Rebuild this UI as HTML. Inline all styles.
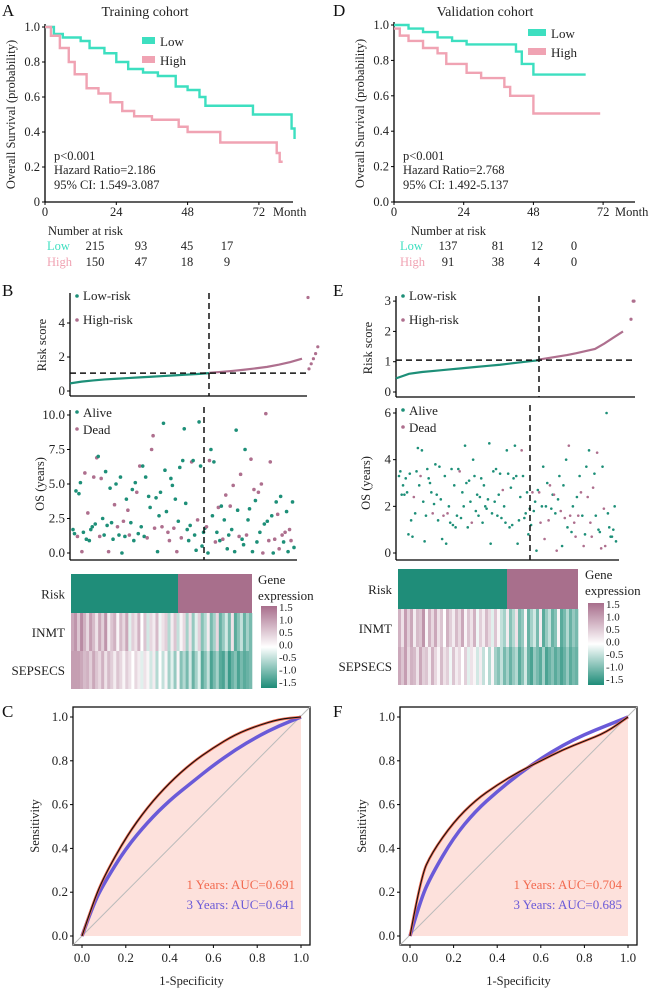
<!DOCTYPE html>
<html><head><meta charset="utf-8"><style>
html,body{margin:0;padding:0;background:#fff;}
svg{display:block;font-family:"Liberation Serif",serif;}
</style></head><body>
<svg id="fig" width="656" height="991" viewBox="0 0 656 991"></svg>
<script>
// ---- KM data ----
const kmA_lowT=[0,3,6,12,15,20,24,28,33,38,44,48,52,54,70,83,84];
const kmA_lowS=[1,0.96,0.94,0.92,0.88,0.85,0.80,0.76,0.74,0.72,0.66,0.64,0.60,0.55,0.50,0.42,0.36];
const kmA_highT=[0,2,5,8,10,14,18,22,26,30,36,45,48,59,78,79,80];
const kmA_highS=[1,0.95,0.88,0.80,0.73,0.65,0.62,0.57,0.52,0.49,0.47,0.43,0.40,0.34,0.28,0.23,0.23];
const kmD_lowT=[0,5,10,15,20,25,42,44,48,66];
const kmD_lowS=[1,0.98,0.96,0.93,0.91,0.89,0.85,0.78,0.72,0.72];
const kmD_highT=[0,2,5,10,15,18,25,30,38,40,48,71];
const kmD_highS=[0.98,0.94,0.91,0.87,0.84,0.78,0.73,0.70,0.65,0.60,0.50,0.50];
const riskA_low=["215","93","45","17"], riskA_high=["150","47","18","9"];
const riskD_low=["137","81","12","0"], riskD_high=["91","38","4","0"];
// ---- risk score curves ----
const rsB_low=[0.45,0.55,0.62,0.68,0.72,0.76,0.80,0.84,0.88,0.92,0.96,1.0,1.05];
const rsB_high=[1.07,1.12,1.18,1.25,1.33,1.42,1.55,1.70,1.90];
const rsB_tail=[1.3,1.6,1.9,2.2,2.6];
const rsE_low=[0.45,0.6,0.66,0.7,0.74,0.78,0.82,0.86,0.9,0.95,1.0,1.05];
const rsE_high=[1.07,1.12,1.17,1.22,1.28,1.35,1.42,1.6,1.8,2.0];
const rsE_tail=[2.4,3.0];
// ---- OS scatter ----
const osB=[1.7,1.4,4.5,1.2,4.3,5.1,0.1,1.5,5.8,1.0,2.9,0.9,1.7,1.9,5.5,2.1,6.9,7.0,1.2,5.4,2.5,1.3,5.9,2.0,0.1,4.7,2.2,1.0,3.5,5.0,1.9,1.3,5.5,0.0,2.3,1.2,3.9,3.1,1.3,2.2,4.6,0.9,5.1,4.4,1.4,6.3,1.9,6.3,1.2,5.5,1.1,4.1,3.3,7.5,8.5,1.8,4.0,0.1,2.7,4.4,1.9,9.4,6.0,3.0,1.5,0.9,5.4,4.9,1.8,3.9,0.1,2.3,6.2,1.1,6.7,9.0,3.6,1.7,0.9,2.0,6.6,6.7,1.3,0.2,2.4,9.5,6.3,0.5,1.5,1.8,
1.9,0.0,6.7,7.5,2.7,6.6,0.8,1.5,3.3,0.9,3.4,1.0,2.4,4.2,0.3,1.3,3.4,1.7,4.9,0.1,8.9,3.1,1.2,5.7,1.0,0.6,7.5,1.3,2.4,3.2,6.8,0.1,4.6,3.8,0.8,4.4,1.5,5.0,0.0,2.1,10.1,2.3,0.9,6.6,2.7,0.0,1.0,3.7,2.8,0.3,4.1,1.3,0.8,1.5,3.0,0.1,1.7,0.9,3.7,0.4];
const stB="0001001010100010101100001000101000100110000101000010011100001000110010100100000010001000001010001010010100101000110001001010010110101100101101010011";
const osE=[3.3,3.5,2.5,2.9,2.5,3.2,2.6,0.8,3.4,1.4,0.7,2.4,1.7,3.5,4.5,2.9,3.3,4.4,2.2,0.5,1.6,3.6,3.2,3.0,2.6,1.7,2.1,3.8,2.5,1.4,3.7,2.3,0.6,1.6,3.3,0.4,1.7,2.0,1.3,3.6,1.2,2.9,1.1,1.6,3.6,3.5,1.5,2.6,2.0,4.6,3.0,1.1,3.1,2.2,1.3,4.0,3.3,1.8,2.5,1.6,2.4,3.2,1.3,2.9,2.0,1.9,2.3,4.7,0.4,1.7,3.5,2.2,3.6,1.6,2.5,3.4,1.5,2.7,2.0,1.3,4.4,3.4,1.1,2.8,1.2,3.2,4.6,3.3,0.4,1.4,2.4,4.4,3.3,1.5,1.7,2.6,0.8,1.9,1.2,2.6,1.8,
2.2,0.1,2.7,2.6,1.3,2.0,3.7,0.6,2.0,3.0,1.4,2.9,1.9,2.5,2.5,1.7,0.1,2.3,3.3,1.8,0.3,2.9,1.5,4.0,1.1,4.6,1.6,0.9,2.0,1.3,0.7,2.4,1.6,3.3,2.6,1.6,0.3,0.8,3.7,2.4,4.4,1.3,0.7,2.8,3.4,1.6,4.3,1.0,0.9,0.2,3.7,1.9,0.3,6.0,1.7,1.1,0.7,0.7,1.0,2.0,0.5];
const stE="0000000000010000100000000100000001001000000001000000001000000000000000000000010000000000000100000001000011001001100101001001001100110101010010111001001011";
// ---- heatmap ----
const inmtB=[0.9,1.1,0.6,1.2,0.8,0.4,1.0,0.7,0.3,0.9,0.5,1.1,0.2,0.6,0.8,0.1,0.7,0.4,0.9,-0.2,0.5,0.3,0.8,0.0,0.6,-0.3,0.4,0.2,0.7,-0.1,0.3,0.5,-0.5,0.2,0.6,-0.4,0.1,0.4,-0.6,0.3,-0.7,-0.2,0.5,-0.8,-0.5,0.2,-0.9,-0.6,0.4,-1.0,-0.7,-0.3,-0.9,0.3,-1.1,-0.8,-0.4,-1.0,-0.6,-0.9];
const sepB=[1.0,1.0,1.0,0.9,0.7,0.8,0.5,0.9,0.6,0.4,0.8,0.3,0.7,0.5,0.2,0.6,0.4,0.1,0.5,0.3,0.0,0.4,0.2,-0.2,0.3,0.1,-0.3,0.2,-0.5,0.0,-0.4,0.1,-0.6,-0.2,-0.7,0.1,-0.8,-0.5,-0.9,-0.3,-1.0,-0.6,-0.2,-1.1,-0.8,-0.4,-1.2,-0.9,-0.6,-1.1,-1.2,-0.7,-1.3,-1.0,-0.8,-1.2,-0.9,-1.1,-1.0,-0.9];
const inmtE=[0.8,0.3,1.0,0.5,0.9,0.2,0.7,0.6,1.1,0.1,0.8,0.4,0.9,0.3,0.6,0.0,0.8,0.5,0.2,0.7,0.4,0.9,0.1,0.6,0.3,0.8,-0.1,0.5,0.2,0.7,0.4,-0.2,0.6,0.1,-0.4,-0.6,0.2,-0.8,-0.5,0.3,-0.9,-0.7,0.1,-1.0,-0.6,-0.3,-0.9,0.2,-1.1,-0.7,-0.4,-1.0,-0.8,0.1,-1.1,-0.9,-0.5,-1.0,-0.7,-0.9];
const sepE=[0.9,0.6,1.0,0.4,0.8,0.7,0.3,0.9,0.5,0.6,0.2,0.8,0.4,0.1,0.7,0.3,0.5,-0.1,0.6,0.2,0.4,0.0,0.5,-0.2,0.3,0.1,-0.3,0.2,-0.4,0.0,-0.5,0.1,-0.6,-0.8,-0.4,-0.9,-0.6,-1.0,-0.7,-0.5,-1.1,-0.8,-0.3,-1.0,-1.2,-0.7,-0.9,-1.1,-0.6,-1.2,-1.0,-0.8,-1.1,-0.9,-1.2,-1.0,-0.7,-1.1,-0.9,-1.0];
const legendTicks=["1.5","1.0","0.5","0.0","-0.5","-1.0","-1.5"];
// ---- ROC ----
const rocX=[0,0.05,0.1,0.2,0.3,0.4,0.5,0.6,0.7,0.8,0.9,1];
const rocC1=[0,0.15,0.27,0.45,0.59,0.70,0.79,0.86,0.92,0.96,0.99,1];
const rocC3=[0,0.14,0.24,0.40,0.52,0.62,0.70,0.78,0.85,0.91,0.96,1];
const rocF1=[0,0.27,0.38,0.52,0.62,0.69,0.75,0.80,0.85,0.89,0.93,1];
const rocF3=[0,0.17,0.28,0.45,0.57,0.66,0.74,0.81,0.87,0.92,0.96,1];
const rocTicks=["0.0","0.2","0.4","0.6","0.8","1.0"];

const NS="http://www.w3.org/2000/svg", svg=document.getElementById('fig');
function mk(tag,attrs,parent,name,txt){const e=document.createElementNS(NS,tag);for(const k in attrs)e.setAttribute(k,attrs[k]);
 
 
 if(txt!==undefined)e.textContent=txt;(parent||svg).appendChild(e);return e;}
function T(x,y,s,o,name){o=o||{};return mk('text',Object.assign({x:x,y:y,'font-size':o.fs||12.5,fill:o.fill||'#222','text-anchor':o.a||'start'},o.extra||{}),o.p||svg,name||'label',s);}
const LOWC='#3ddfc0',HIGHC='#f0a3b3',GRN='#1d8f78',PNK='#ae6f8e';

function km(o){
 const g=mk('g',{},svg,o.name);
 const sx=t=>o.x0+(o.x24-o.x0)*t/24, sy=s=>o.y0+(o.y1-o.y0)*s;
 mk('line',{x1:o.x0,y1:o.y1-3,x2:o.x0,y2:o.y0,stroke:'#000','stroke-width':1.3},g,'y-axis');
 mk('line',{x1:o.x0,y1:o.y0,x2:o.xe,y2:o.y0,stroke:'#000','stroke-width':1.3},g,'x-axis');
 const yl=o.yl;
 [0,0.2,0.4,0.6,0.8,1].forEach((v,i)=>{mk('line',{x1:o.x0-3,x2:o.x0,y1:sy(v),y2:sy(v),stroke:'#000'},g,'y-tick');T(o.x0-5,sy(v)+4,yl[i],{a:'end',p:g},'y-tick-label');});
 [0,24,48,72].forEach(t=>{mk('line',{x1:sx(t),x2:sx(t),y1:o.y0,y2:o.y0+3,stroke:'#000'},g,'x-tick');T(sx(t),o.y0+14,String(t),{a:'middle',p:g},'x-tick-label');});
 T(o.xe-20,o.y0+14,'Month',{p:g},'x-axis-unit');
 mk('text',{transform:`translate(${o.x0-30},${(o.y0+o.y1)/2}) rotate(-90)`,'text-anchor':'middle','font-size':12.5,fill:'#222'},g,'y-axis-title','Overall Survival (probability)');
 function step(ts,ss,c,n){let d=`M${sx(ts[0])},${sy(ss[0])}`;for(let i=1;i<ts.length;i++){d+=`H${sx(ts[i])}V${sy(ss[i])}`;}
  mk('path',{d:d,fill:'none',stroke:c,'stroke-width':2.4},g,n);}
 step(o.lowT,o.lowS,LOWC,'low-risk-curve');step(o.highT,o.highS,HIGHC,'high-risk-curve');
 mk('rect',{x:o.lgx,y:o.lgy-5,width:o.lgw,height:7,fill:LOWC},g,'legend-low-swatch');
 T(o.lgx+o.lgw+5,o.lgy+4,'Low',{fs:13,p:g},'legend-low-label');
 mk('rect',{x:o.lgx,y:o.lgy+14,width:o.lgw,height:7,fill:HIGHC},g,'legend-high-swatch');
 T(o.lgx+o.lgw+5,o.lgy+23,'High',{fs:13,p:g},'legend-high-label');
 T(o.x0+9,160,'p<0.001',{p:g},'p-value');T(o.x0+9,174,o.hr,{p:g},'hazard-ratio');T(o.x0+9,189,o.ci,{p:g},'confidence-interval');
 T(o.tx,16,o.title,{fs:14,a:'middle',p:g},'panel-title');T(2,16,o.letter,{fs:17,p:g,fill:'#111'},'panel-letter');
 T(o.nrx,235,'Number at risk',{p:g},'risk-table-title');
 T(o.x0+2-o.lo,250,'Low',{fill:LOWC,p:g},'risk-table-low-label');T(o.x0+2-o.lo,266,'High',{fill:HIGHC,p:g},'risk-table-high-label');
 o.cols.forEach((cx,i)=>{T(cx,250,o.rl[i],{a:'middle',p:g},'risk-count-low');T(cx,266,o.rh[i],{a:'middle',p:g},'risk-count-high');});
}
km({name:'km-training',x0:45,x24:116.3,xe:293,y0:202,y1:27,yl:['0','0.2','0.4','0.6','0.8','1.0'],lowT:kmA_lowT,lowS:kmA_lowS,highT:kmA_highT,highS:kmA_highS,
 lgx:142,lgy:42,lgw:13,hr:'Hazard Ratio=2.186',ci:'95% CI: 1.549-3.087',tx:145,title:'Training cohort',letter:'A',nrx:48,lo:0,cols:[95,141,187,227],rl:riskA_low,rh:riskA_high});
km({name:'km-validation',x0:394,x24:463.7,xe:635,y0:202,y1:25,yl:['0.0','0.2','0.4','0.6','0.8','1.0'],lowT:kmD_lowT,lowS:kmD_lowS,highT:kmD_highT,highS:kmD_highS,
 lgx:528,lgy:34,lgw:18,hr:'Hazard Ratio=2.768',ci:'95% CI: 1.492-5.137',tx:485,title:'Validation cohort',letter:'',nrx:411,lo:-4,cols:[448,498,537,574],rl:riskD_low,rh:riskD_high});
T(333,16,'D',{fs:17,fill:'#111'},'panel-letter-d');

function riskPanel(o){
 const g=mk('g',{},svg,o.name);
 const sy=v=>o.y0-v*o.k;
 mk('line',{x1:o.x0,y1:o.top,x2:o.x0,y2:o.y0+5,stroke:'#000','stroke-width':1.3},g,'y-axis');
 mk('line',{x1:o.x0,y1:o.y0+5,x2:o.xe,y2:o.y0+5,stroke:'#000','stroke-width':1.3},g,'x-axis');
 o.ticks.forEach(v=>{mk('line',{x1:o.x0-3,x2:o.x0,y1:sy(v),y2:sy(v),stroke:'#000'},g,'y-tick');T(o.x0-5,sy(v)+4,String(v),{a:'end',fs:13,p:g},'y-tick-label');});
 mk('text',{transform:`translate(${o.x0-24},${o.top+52}) rotate(-90)`,'text-anchor':'middle','font-size':12.5,fill:'#222'},g,'y-axis-title','Risk score');
 const line=(arr,xa,xb,c,n)=>{let d='';arr.forEach((v,i)=>{d+=(i?'L':'M')+(xa+(xb-xa)*i/(arr.length-1))+','+sy(v);});mk('path',{d:d,fill:'none',stroke:c,'stroke-width':2.2},g,n);};
 line(o.low,o.x0,o.xc,GRN,'low-risk-score-line');line(o.high,o.xc,o.xh,PNK,'high-risk-score-line');
 o.tail.forEach((v,i)=>mk('circle',{cx:o.xt+i*2.2,cy:sy(v),r:1.6,fill:PNK},g,'high-risk-point'));
 mk('circle',{cx:o.xo,cy:sy(o.out),r:1.6,fill:PNK},g,'outlier-point');
 mk('line',{x1:o.x0,x2:o.xe,y1:sy(1.05),y2:sy(1.05),stroke:'#111','stroke-width':1.5,'stroke-dasharray':'6,4'},g,'cutoff-hline');
 mk('line',{x1:o.xc,x2:o.xc,y1:o.top,y2:o.y0+5,stroke:'#111','stroke-width':1.5,'stroke-dasharray':'6,4'},g,'cutoff-vline');
 mk('circle',{cx:o.x0+7,cy:296,r:1.8,fill:GRN},g,'legend-low-dot');T(o.x0+13,300,'Low-risk',{fs:13,p:g},'legend-low-label');
 mk('circle',{cx:o.x0+7,cy:320,r:1.8,fill:PNK},g,'legend-high-dot');T(o.x0+13,324,'High-risk',{fs:13,p:g},'legend-high-label');
}
riskPanel({name:'risk-score-training',x0:70,xe:307,y0:391,top:293,k:17,ticks:[0,2,4],low:rsB_low,high:rsB_high,tail:rsB_tail,xc:209,xh:302,xt:309,xo:308,out:5.5});
riskPanel({name:'risk-score-validation',x0:396,xe:635,y0:392,top:296,k:30.3,ticks:[0,1,2,3],low:rsE_low,high:rsE_high,tail:rsE_tail,xc:539,xh:623,xt:631,xo:634,out:3.0});
T(2,296,'B',{fs:17,fill:'#111'},'panel-letter-b');T(333,296,'E',{fs:17,fill:'#111'},'panel-letter-e');

function osPanel(o){
 const g=mk('g',{},svg,o.name);
 const sy=v=>o.y0-(o.y0-o.ytop)*v/o.max;
 mk('line',{x1:o.x0,y1:o.ytop-5,x2:o.x0,y2:o.y0+7,stroke:'#000','stroke-width':1.3},g,'y-axis');
 mk('line',{x1:o.x0,y1:o.y0+7,x2:o.xe,y2:o.y0+7,stroke:'#000','stroke-width':1.3},g,'x-axis');
 o.ticks.forEach((v,i)=>{mk('line',{x1:o.x0-3,x2:o.x0,y1:sy(v),y2:sy(v),stroke:'#000'},g,'y-tick');T(o.x0-5,sy(v)+4,o.tl[i],{a:'end',fs:13,p:g},'y-tick-label');});
 mk('text',{transform:`translate(${o.x0-26},${(o.y0+o.ytop)/2}) rotate(-90)`,'text-anchor':'middle','font-size':12.5,fill:'#222'},g,'y-axis-title','OS (years)');
 const n=o.os.length;
 o.os.forEach((v,i)=>{const c=o.st[i]==='1'?PNK:GRN;mk('circle',{cx:o.x0+3+(o.xe-o.x0-6)*i/(n-1),cy:sy(v),r:o.r,fill:c},g,o.st[i]==='1'?'dead-point':'alive-point');});
 mk('line',{x1:o.xc,x2:o.xc,y1:o.ytop-8,y2:o.y0+7,stroke:'#111','stroke-width':1.5,'stroke-dasharray':'6,4'},g,'cutoff-vline');
 mk('circle',{cx:o.x0+7,cy:o.ytop-3,r:1.8,fill:GRN},g,'legend-alive-dot');T(o.x0+13,o.ytop+2,'Alive',{fs:13,p:g},'legend-alive-label');
 mk('circle',{cx:o.x0+7,cy:o.ytop+14,r:1.8,fill:PNK},g,'legend-dead-dot');T(o.x0+13,o.ytop+19,'Dead',{fs:13,p:g},'legend-dead-label');
}
osPanel({name:'os-scatter-training',x0:70,xe:297,y0:553,ytop:415,max:10,ticks:[0,2.5,5,7.5,10],tl:['0.0','2.5','5.0','7.5','10.0'],os:osB,st:stB,xc:204,r:1.8});
osPanel({name:'os-scatter-validation',x0:396,xe:619,y0:553,ytop:413,max:6,ticks:[0,2,4,6],tl:['0','2','4','6'],os:osE,st:stE,xc:530,r:1.3});

function col(v){const t=Math.max(-1,Math.min(1,v/1.5));const w=[255,255,255],p=[168,110,140],gr=[30,140,120];const c=t>=0?p:gr,a=Math.abs(t);
 return `rgb(${w.map((x,i)=>Math.round(x+(c[i]-x)*a)).join(',')})`;}
function heat(o){
 const g=mk('g',{},svg,o.name);
 mk('rect',{x:o.x0,y:o.y0,width:o.xc-o.x0,height:o.h1,fill:'#1f8d79'},g,'risk-low-bar');
 mk('rect',{x:o.xc,y:o.y0,width:o.x1-o.xc,height:o.h1,fill:'#a86f8c'},g,'risk-high-bar');
 [[o.inmt,o.y0+o.h1,'inmt-cell'],[o.sep,o.y0+o.h1+o.h2,'sepsecs-cell']].forEach(([arr,y,n])=>{const w=(o.x1-o.x0)/arr.length;
  arr.forEach((v,i)=>mk('rect',{x:o.x0+i*w,y:y,width:w+0.3,height:o.h2,fill:col(v)},g,n));});
 T(o.x0-6,o.y0+o.h1/2+5,'Risk',{a:'end',fs:13,p:g},'row-label-risk');
 T(o.x0-6,o.y0+o.h1+o.h2/2+5,'INMT',{a:'end',fs:13,p:g},'row-label-inmt');
 T(o.x0-6,o.y0+o.h1+o.h2*1.5+5,'SEPSECS',{a:'end',fs:13,p:g},'row-label-sepsecs');
 T(o.lx-3,o.y0+10,'Gene',{fs:13,p:g},'legend-title');T(o.lx-3,o.y0+26,'expression',{fs:13,p:g},'legend-title-2');
 const gid='grad'+o.name;const d=mk('defs',{},g,'defs');const lg=mk('linearGradient',{id:gid,x1:0,y1:0,x2:0,y2:1},d,'gradient');
 [[0,col(1.5)],[0.5,'#fff'],[1,col(-1.5)]].forEach(s=>mk('stop',{offset:s[0],'stop-color':s[1]},lg,'gradient-stop'));
 mk('rect',{x:o.lx,y:o.ly,width:16,height:82,fill:`url(#${gid})`},g,'legend-colorbar');
 legendTicks.forEach((s,i)=>T(o.lx+18,o.ly+5+i*12.5,s,{fs:11,p:g},'legend-tick-label'));
}
heat({name:'heatmap-training',x0:71,xc:178,x1:252,y0:574,h1:39,h2:38,inmt:inmtB,sep:sepB,lx:261,ly:606});
heat({name:'heatmap-validation',x0:398,xc:507,x1:578,y0:569,h1:40,h2:38,inmt:inmtE,sep:sepE,lx:588,ly:603});

function smooth(pts){let d=`M${pts[0][0]},${pts[0][1]}`;
 for(let i=1;i<pts.length-1;i++){const mx=(pts[i][0]+pts[i+1][0])/2,my=(pts[i][1]+pts[i+1][1])/2;d+=`Q${pts[i][0]},${pts[i][1]} ${mx},${my}`;}
 const l=pts[pts.length-1];d+=`L${l[0]},${l[1]}`;return d;}
function roc(o){
 const g=mk('g',{},svg,o.name);
 const sx=v=>o.xa+(o.xb-o.xa)*v, sy=v=>o.ya+(o.yb-o.ya)*v;
 mk('rect',{x:o.bx,y:707,width:237,height:238,fill:'#fff',stroke:'#111','stroke-width':1.3},g,'plot-frame');
 const p1=rocX.map((x,i)=>[sx(x),sy(o.c1[i])]), p3=rocX.map((x,i)=>[sx(x),sy(o.c3[i])]);
 mk('path',{d:smooth(p1)+`L${sx(1)},${sy(0)}Z`,fill:'#fde1dc'},g,'auc-area');
 mk('line',{x1:o.bx,y1:945,x2:o.bx+237,y2:707,stroke:'#bbb','stroke-width':1},g,'diagonal-reference');
 mk('path',{d:smooth(p3),fill:'none',stroke:'#6a5ad8','stroke-width':3.5,'stroke-linejoin':'round'},g,'roc-3-year');
 mk('path',{d:smooth(p1),fill:'none',stroke:'#f26a4f','stroke-width':2.6},g,'roc-1-year');
 mk('path',{d:smooth(p1),fill:'none',stroke:'#111','stroke-width':1.1},g,'roc-1-year-outline');
 rocTicks.forEach((s,i)=>{const v=i/5;
  mk('line',{x1:o.bx-3,x2:o.bx,y1:sy(v),y2:sy(v),stroke:'#000'},g,'y-tick');T(o.bx-5,sy(v)+4,s,{a:'end',fs:13,p:g},'y-tick-label');
  mk('line',{x1:sx(v),x2:sx(v),y1:945,y2:948,stroke:'#000'},g,'x-tick');T(sx(v),962,s,{a:'middle',fs:13,p:g},'x-tick-label');});
 T((o.bx+o.bx+237)/2,985,'1-Specificity',{a:'middle',fs:12.5,p:g},'x-axis-title');
 mk('text',{transform:`translate(${o.bx-34},826) rotate(-90)`,'text-anchor':'middle','font-size':12.5,fill:'#222'},g,'y-axis-title','Sensitivity');
 T(o.xb-6,889,o.t1,{a:'end',fs:13,fill:'#f26a4f',p:g},'auc-1-year-label');
 T(o.xb-6,909,o.t3,{a:'end',fs:13,fill:'#6a5ad8',p:g},'auc-3-year-label');
}
roc({name:'roc-training',bx:73,xa:82,xb:301,ya:936,yb:717,c1:rocC1,c3:rocC3,t1:'1 Years: AUC=0.691',t3:'3 Years: AUC=0.641'});
roc({name:'roc-validation',bx:400,xa:410,xb:628,ya:936,yb:717,c1:rocF1,c3:rocF3,t1:'1 Years: AUC=0.704',t3:'3 Years: AUC=0.685'});
T(2,717,'C',{fs:17,fill:'#111'},'panel-letter-c');T(333,717,'F',{fs:17,fill:'#111'},'panel-letter-f');
</script>
</body></html>
